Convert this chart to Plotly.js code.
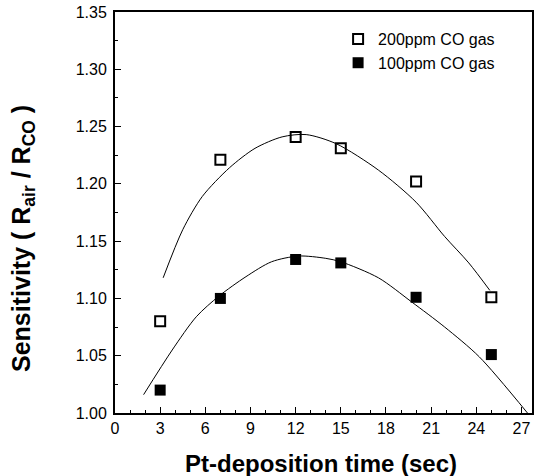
<!DOCTYPE html>
<html>
<head>
<meta charset="utf-8">
<script src="https://cdn.plot.ly/plotly-3.0.1.min.js"></script>
<style>html,body{margin:0;padding:0;background:#fff;}#chart{width:537px;height:476px;}</style>
</head>
<body>
<div id="chart"></div>
<script>
// Measured points
const timeSec = [3, 7, 12, 15, 20, 25];
const co200 = [1.080, 1.221, 1.241, 1.231, 1.202, 1.101];
const co100 = [1.020, 1.100, 1.134, 1.131, 1.101, 1.051];

// Fitted curves
const fit200X = [3.2, 4.5, 5.8, 7.6, 9.3, 11.1, 12.7, 14.7, 17.5, 20.0, 21.9, 23.5, 24.9];
const fit200Y = [1.118, 1.160, 1.189, 1.214, 1.231, 1.241, 1.243, 1.235, 1.212, 1.184, 1.154, 1.131, 1.107];
const fit100X = [1.9, 3.8, 5.4, 6.9, 8.7, 10.4, 12.2, 14.0, 15.0, 17.5, 19.7, 21.9, 24.2, 27.4];
const fit100Y = [1.016, 1.055, 1.084, 1.102, 1.119, 1.132, 1.137, 1.135, 1.132, 1.118, 1.097, 1.075, 1.049, 1.000];

const legendNames = ['200ppm CO gas', '100ppm CO gas'];
const xTicks = [0, 3, 6, 9, 12, 15, 18, 21, 24, 27];
const yTicks = [1.00, 1.05, 1.10, 1.15, 1.20, 1.25, 1.30, 1.35];
const xTitle = 'Pt-deposition time (sec)';
const yTitle = 'Sensitivity ( R<sub>air</sub> / R<sub>CO</sub> )';

const font = 'Liberation Sans, Arial, sans-serif';

const traces = [
  {x: fit200X, y: fit200Y, mode: 'lines', line: {color: '#000', width: 1, shape: 'spline', smoothing: 0.8}, showlegend: false, hoverinfo: 'skip'},
  {x: fit100X, y: fit100Y, mode: 'lines', line: {color: '#000', width: 1, shape: 'spline', smoothing: 0.8}, showlegend: false, hoverinfo: 'skip'},
  {x: timeSec, y: co200, mode: 'markers', name: legendNames[0],
   marker: {symbol: 'square-open', size: 10, color: '#000', line: {width: 2, color: '#000'}}},
  {x: timeSec, y: co100, mode: 'markers', name: legendNames[1],
   marker: {symbol: 'square', size: 11, color: '#000'}}
];

const layout = {
  width: 537, height: 476,
  margin: {l: 115, r: 5, t: 12, b: 63},
  paper_bgcolor: '#fff', plot_bgcolor: '#fff',
  font: {family: font, color: '#000', size: 16},
  showlegend: true,
  legend: {x: 0.535, y: 0.975, xanchor: 'left', yanchor: 'top', bgcolor: 'rgba(0,0,0,0)',
           font: {family: font, size: 16, color: '#000'}, tracegroupgap: 0},
  xaxis: {
    range: [0, 27.7], tickvals: xTicks, ticktext: xTicks.map(String),
    ticks: 'inside', ticklen: 6, tickwidth: 1, tickcolor: '#000',
    minor: {dtick: 1, tick0: 0, ticks: 'inside', ticklen: 3, tickcolor: '#000'},
    showline: true, linecolor: '#000', linewidth: 2, mirror: true,
    showgrid: false, zeroline: false,
    tickfont: {family: font, size: 16, color: '#000'}
  },
  yaxis: {
    range: [1.0, 1.35], tickvals: yTicks, ticktext: yTicks.map(v => v.toFixed(2)),
    ticks: 'inside', ticklen: 6, tickwidth: 1, tickcolor: '#000',
    minor: {dtick: 0.025, tick0: 1.0, ticks: 'inside', ticklen: 3, tickcolor: '#000'},
    showline: true, linecolor: '#000', linewidth: 2, mirror: true,
    showgrid: false, zeroline: false, ticklabelstandoff: 3,
    tickfont: {family: font, size: 16, color: '#000'}
  },
  annotations: [
    {text: xTitle, xref: 'paper', yref: 'paper', x: 0.493, y: -0.125, xanchor: 'center', yanchor: 'middle',
     showarrow: false, font: {family: font, size: 24, color: '#000', weight: 'bold'}},
    {text: yTitle, xref: 'paper', yref: 'paper', x: -0.222, y: 0.435, xanchor: 'center', yanchor: 'middle',
     textangle: -90, showarrow: false, font: {family: font, size: 25, color: '#000', weight: 'bold'}}
  ]
};

Plotly.newPlot('chart', traces, layout, {staticPlot: true, displayModeBar: false});
</script>
</body>
</html>
